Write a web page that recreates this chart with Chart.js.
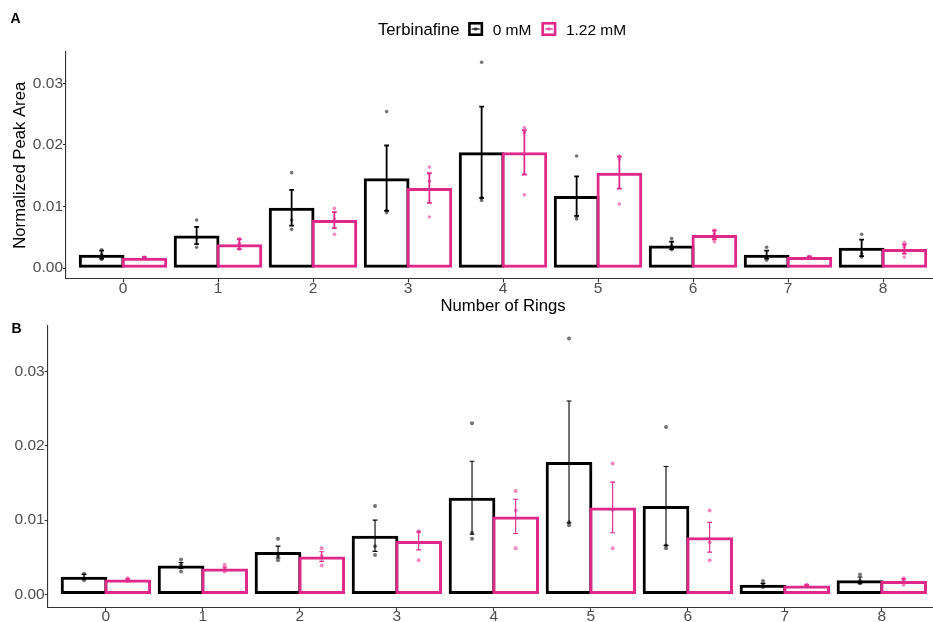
<!DOCTYPE html>
<html>
<head>
<meta charset="utf-8">
<script src="https://cdn.jsdelivr.net/npm/chart.js@4.4.1/dist/chart.umd.min.js"></script>
<style>
  html, body { margin: 0; padding: 0; background: #fff; overflow: hidden; }
  #wrap { position: relative; width: 933px; height: 622px; overflow: hidden; }
  canvas { position: absolute; left: 0; }
</style>
</head>
<body>
<div id="wrap">
  <canvas id="panelA" width="945" height="318" style="top:0"></canvas>
  <canvas id="panelB" width="945" height="304" style="top:318px"></canvas>
</div>
<script>
const rings = [0, 1, 2, 3, 4, 5, 6, 7, 8];
const yTicks = [0, 0.01, 0.02, 0.03];
const legendTitle = 'Terbinafine';
const doses = ['0 mM', '1.22 mM'];

// panel A : bar means, standard errors, replicate points
const aMean0 = [0.0022, 0.0053, 0.0098, 0.0146, 0.0188, 0.0117, 0.0037, 0.0022, 0.0033];
const aSe0 = [0.00065, 0.0014, 0.0029, 0.0053, 0.0074, 0.0032, 0.0006, 0.00065, 0.00135];
const aMean1 = [0.0017, 0.0039, 0.0078, 0.0130, 0.0188, 0.0155, 0.0054, 0.0018, 0.0031];
const aSe1 = [0.0001, 0.0008, 0.0013, 0.0024, 0.0036, 0.0026, 0.0007, 0.0001, 0.00075];
const aPts0 = [
  [0.0030, 0.0022, 0.0014], [0.0078, 0.0049, 0.0034], [0.0155, 0.0078, 0.0063],
  [0.0254, 0.0094, 0.0090], [0.0334, 0.0114, 0.0110], [0.0182, 0.0084, 0.0080],
  [0.0048, 0.0036, 0.0030], [0.0034, 0.0019, 0.0013], [0.0055, 0.0024, 0.0018]
];
const aPts1 = [
  [0.0018, 0.0017, 0.0016], [0.0048, 0.0040, 0.0031], [0.0097, 0.0079, 0.0055],
  [0.0164, 0.0141, 0.0083], [0.0228, 0.0220, 0.0119], [0.0182, 0.0177, 0.0104],
  [0.0062, 0.0056, 0.0043], [0.0019, 0.0018, 0.0017], [0.0042, 0.0035, 0.0018]
];

// panel B
const bMean0 = [0.0024, 0.0039, 0.0057, 0.0079, 0.0130, 0.0178, 0.0119, 0.0013, 0.0019];
const bSe0 = [0.0003, 0.0004, 0.0008, 0.0021, 0.0049, 0.0082, 0.0053, 0.0002, 0.00045];
const bMean1 = [0.0020, 0.0035, 0.0051, 0.0072, 0.0105, 0.0117, 0.0077, 0.0012, 0.0018];
const bSe1 = [0.0001, 0.0002, 0.00065, 0.0012, 0.0023, 0.0034, 0.0020, 0.0001, 0.0003];
const bPts0 = [
  [0.0028, 0.0022, 0.0019], [0.0047, 0.0040, 0.0031], [0.0075, 0.0052, 0.0046],
  [0.0119, 0.0065, 0.0053], [0.0230, 0.0083, 0.0075], [0.0344, 0.0097, 0.0093],
  [0.0225, 0.0066, 0.0062], [0.0018, 0.0012, 0.0010], [0.0027, 0.0018, 0.0015]
];
const bPts1 = [
  [0.0022, 0.0020, 0.0018], [0.0040, 0.0035, 0.0031], [0.0062, 0.0052, 0.0039],
  [0.0085, 0.0084, 0.0046], [0.0139, 0.0113, 0.0062], [0.0176, 0.0114, 0.0062],
  [0.0113, 0.0070, 0.0046], [0.0013, 0.0012, 0.0011], [0.0022, 0.0019, 0.0013]
];

const INK = '#000000';
const PINK = '#E0288A';
const INK_DOT = 'rgba(0,0,0,0.55)';
const PINK_DOT = 'rgba(224,40,138,0.55)';
const AXIS = '#333333';
const TICK_TEXT = '#4D4D4D';
const FONT = "'Liberation Sans', Arial, sans-serif";
const DODGE = 0.225;

const errorBars = {
  id: 'errorBars',
  beforeDatasetsDraw(chart, args, opts) {
    const { ctx, scales: { x, y } } = chart;
    const half = x.getPixelForValue(0.025) - x.getPixelForValue(0);
    chart.data.datasets.forEach((ds) => {
      if (!ds.se) return;
      ctx.save();
      ctx.strokeStyle = ds.borderColor;
      ctx.lineWidth = opts.width;
      ds.data.forEach((p, i) => {
        const px = x.getPixelForValue(p.x);
        const top = y.getPixelForValue(p.y + ds.se[i]);
        const bot = y.getPixelForValue(p.y - ds.se[i]);
        ctx.beginPath();
        ctx.moveTo(px, top); ctx.lineTo(px, bot);
        ctx.moveTo(px - half, top); ctx.lineTo(px + half, top);
        ctx.moveTo(px - half, bot); ctx.lineTo(px + half, bot);
        ctx.stroke();
      });
      ctx.restore();
    });
  }
};

function drawKey(ctx, x, top, color, dot) {
  ctx.strokeStyle = color;
  ctx.lineWidth = 2.6;
  ctx.strokeRect(x + 1.3, top + 1.3, 12.4, 11.4);
  ctx.lineWidth = 1.2;
  ctx.beginPath();
  ctx.moveTo(x + 3.5, top + 7); ctx.lineTo(x + 11.5, top + 7);
  ctx.stroke();
  ctx.fillStyle = dot;
  ctx.beginPath();
  ctx.arc(x + 7.5, top + 7, 1.8, 0, Math.PI * 2);
  ctx.fill();
}

const panelText = {
  id: 'panelText',
  afterDraw(chart, args, opts) {
    const ctx = chart.ctx;
    ctx.save();
    ctx.fillStyle = '#000';
    ctx.textBaseline = 'alphabetic';
    ctx.font = `bold 14px ${FONT}`;
    ctx.fillText(opts.letter, opts.letterX, opts.letterY);
    if (opts.legend) {
      let x = 378;
      const base = 35;
      ctx.font = `16.7px ${FONT}`;
      ctx.fillText(legendTitle, x, base);
      x += ctx.measureText(legendTitle).width + 8.5;
      const colors = [[INK, INK_DOT], [PINK, PINK_DOT]];
      doses.forEach((d, i) => {
        drawKey(ctx, x, 22, colors[i][0], colors[i][1]);
        x += 24.5;
        ctx.fillStyle = '#000';
        ctx.font = `15.5px ${FONT}`;
        ctx.fillText(d, x, base);
        x += ctx.measureText(d).width + 10;
      });
    }
    ctx.restore();
  }
};

function pointData(pts, shift) {
  const out = [];
  pts.forEach((group, i) => group.forEach((v) => out.push({ x: rings[i] + shift, y: v })));
  return out;
}

function buildPanel(id, p) {
  const top = Math.max(...p.pts0.flat(), ...p.pts1.flat());
  const pad = top * 0.05;
  new Chart(document.getElementById(id), {
    type: 'bar',
    data: {
      datasets: [
        {
          label: doses[0],
          data: rings.map((r, i) => ({ x: r - DODGE, y: p.mean0[i] })),
          se: p.se0,
          borderColor: INK,
          backgroundColor: 'rgba(0,0,0,0)',
          borderWidth: 3,
          borderSkipped: false,
          grouped: false,
          categoryPercentage: 1,
          barPercentage: 1.07,
          order: 3
        },
        {
          label: doses[1],
          data: rings.map((r, i) => ({ x: r + DODGE, y: p.mean1[i] })),
          se: p.se1,
          borderColor: PINK,
          backgroundColor: 'rgba(0,0,0,0)',
          borderWidth: 3,
          borderSkipped: false,
          grouped: false,
          categoryPercentage: 1,
          barPercentage: 1.07,
          order: 2
        },
        {
          type: 'scatter',
          data: pointData(p.pts0, -DODGE),
          backgroundColor: INK_DOT,
          borderWidth: 0,
          pointRadius: p.dot,
          order: 1
        },
        {
          type: 'scatter',
          data: pointData(p.pts1, DODGE),
          backgroundColor: PINK_DOT,
          borderWidth: 0,
          pointRadius: p.dot,
          order: 0
        }
      ]
    },
    options: {
      responsive: false,
      devicePixelRatio: 1,
      animation: false,
      events: [],
      layout: { padding: { top: p.padTop, left: 0, right: 5, bottom: 0 } },
      plugins: {
        legend: { display: false },
        tooltip: { enabled: false },
        errorBars: { width: p.errWidth },
        panelText: { letter: p.letter, letterX: p.letterX, letterY: p.letterY, legend: p.legend }
      },
      scales: {
        x: {
          type: 'linear',
          min: -0.6,
          max: 8.6,
          offset: false,
          afterBuildTicks: (s) => { s.ticks = rings.map((v) => ({ value: v })); },
          afterFit: (s) => { s.height = p.xHeight; },
          border: { display: true, color: AXIS, width: 1.1 },
          grid: { display: true, offset: false, drawOnChartArea: false, drawTicks: true, tickLength: 4, tickColor: AXIS, tickWidth: 1.1 },
          ticks: { color: TICK_TEXT, padding: -2, maxRotation: 0, font: { family: FONT, size: 15.5, lineHeight: 1 }, callback: (v) => String(v) },
          title: {
            display: p.xTitle,
            text: 'Number of Rings',
            color: '#000',
            padding: { top: 0, bottom: 2 },
            font: { family: FONT, size: 16.7, lineHeight: 1.2 }
          }
        },
        y: {
          min: -pad,
          max: top + pad,
          afterBuildTicks: (s) => { s.ticks = yTicks.map((v) => ({ value: v })); },
          afterFit: (s) => { s.width = p.yWidth; },
          border: { display: true, color: AXIS, width: 1.1 },
          grid: { display: true, drawOnChartArea: false, drawTicks: true, tickLength: 3, tickColor: AXIS, tickWidth: 1.1 },
          ticks: { color: TICK_TEXT, padding: 0, font: { family: FONT, size: 15.5, lineHeight: 1 }, callback: (v) => v.toFixed(2) },
          title: {
            display: p.yTitle,
            text: 'Normalized Peak Area',
            color: '#000',
            padding: { top: 10.5, bottom: 0 },
            font: { family: FONT, size: 16.7, lineHeight: 1.2 }
          }
        }
      }
    },
    plugins: [errorBars, panelText]
  });
}

buildPanel('panelA', {
  mean0: aMean0, se0: aSe0, pts0: aPts0,
  mean1: aMean1, se1: aSe1, pts1: aPts1,
  padTop: 52, yWidth: 66, xHeight: 39.5,
  xTitle: true, yTitle: true, legend: true,
  letter: 'A', letterX: 10.5, letterY: 23,
  errWidth: 1.8, dot: 1.8
});

buildPanel('panelB', {
  mean0: bMean0, se0: bSe0, pts0: bPts0,
  mean1: bMean1, se1: bSe1, pts1: bPts1,
  padTop: 7.7, yWidth: 47.7, xHeight: 14.7,
  xTitle: false, yTitle: false, legend: false,
  letter: 'B', letterX: 11.5, letterY: 14.7,
  errWidth: 1.1, dot: 2
});
</script>
</body>
</html>
